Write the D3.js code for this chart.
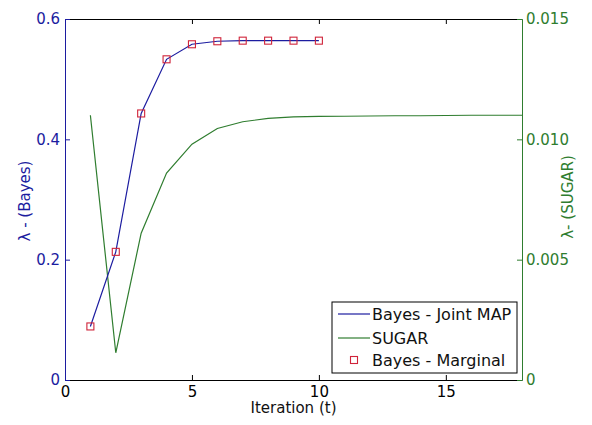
<!DOCTYPE html>
<html>
<head>
<meta charset="utf-8">
<script src="https://cdn.jsdelivr.net/npm/d3@7"></script>
<style>
  body { margin: 0; background: #fff; }
  text { font-family: "DejaVu Sans", sans-serif; }
</style>
</head>
<body>
<div id="chart"></div>
<script>
// data
var iterBayes = [1, 2, 3, 4, 5, 6, 7, 8, 9, 10];
var bayesJoint = [0.089, 0.213, 0.443, 0.533, 0.558, 0.563, 0.564, 0.564, 0.564, 0.564];
var bayesMarginal = [0.089, 0.213, 0.443, 0.533, 0.558, 0.563, 0.564, 0.564, 0.564, 0.564];
var iterSugar = [1, 2, 3, 4, 5, 6, 7, 8, 9, 10, 11, 12, 13, 14, 15, 16, 17, 18];
var sugar = [0.0110, 0.00113, 0.0061, 0.0086, 0.0098, 0.01045, 0.01073, 0.01087, 0.01093,
             0.01095, 0.01096, 0.01097, 0.01098, 0.01098, 0.01099, 0.0110, 0.0110, 0.0110];
var xTicks = [0, 5, 10, 15];
var yLeftTicks = [0, 0.2, 0.4, 0.6];
var yRightTicks = [0, 0.005, 0.010, 0.015];
var legendLabels = ["Bayes - Joint MAP", "SUGAR", "Bayes - Marginal"];

var blue = "#1c1ca0", green = "#2f7d2f", red = "#d0243a";

// set the dimensions and margins of the graph
var margin = {top: 19, right: 70, bottom: 45, left: 65},
    width = 592 - margin.left - margin.right,
    height = 425 - margin.top - margin.bottom;

var svg = d3.select("#chart")
  .append("svg")
    .attr("width", 592)
    .attr("height", 425)
  .append("g")
    .attr("transform", "translate(" + margin.left + "," + margin.top + ")");

var x = d3.scaleLinear().domain([0, 18]).range([0, width]);
var yL = d3.scaleLinear().domain([0, 0.6]).range([height, 0]);
var yR = d3.scaleLinear().domain([0, 0.015]).range([height, 0]);

// top axis (ticks only)
svg.append("g")
  .call(d3.axisTop(x).tickValues(xTicks).tickSize(-5).tickSizeOuter(0).tickFormat(""))
  .call(function(g) { g.selectAll("path,line").attr("stroke", "#000"); });

// bottom axis
svg.append("g")
  .attr("transform", "translate(0," + height + ")")
  .call(d3.axisBottom(x).tickValues(xTicks).tickSize(-5).tickSizeOuter(0).tickPadding(6))
  .call(function(g) {
    g.selectAll("path,line").attr("stroke", "#000");
    g.selectAll("text").attr("fill", "#000").style("font-size", "15px");
  });

// left axis
svg.append("g")
  .call(d3.axisLeft(yL).tickValues(yLeftTicks).tickSize(-5).tickSizeOuter(0).tickPadding(5)
    .tickFormat(function(d) { return d === 0 ? "0" : d.toFixed(1); }))
  .call(function(g) {
    g.selectAll("path,line").attr("stroke", blue);
    g.selectAll("text").attr("fill", blue).style("font-size", "15px");
  });

// right axis
svg.append("g")
  .attr("transform", "translate(" + width + ",0)")
  .call(d3.axisRight(yR).tickValues(yRightTicks).tickSize(-5).tickSizeOuter(0).tickPadding(4)
    .tickFormat(function(d) { return d === 0 ? "0" : d.toFixed(3); }))
  .call(function(g) {
    g.selectAll("path,line").attr("stroke", green);
    g.selectAll("text").attr("fill", green).style("font-size", "15px");
  });

// SUGAR line
svg.append("path")
  .datum(iterSugar)
  .attr("fill", "none")
  .attr("stroke", green)
  .attr("stroke-width", 1.2)
  .attr("d", d3.line()
    .x(function(d) { return x(d); })
    .y(function(d, i) { return yR(sugar[i]); }));

// Bayes joint MAP line
svg.append("path")
  .datum(iterBayes)
  .attr("fill", "none")
  .attr("stroke", blue)
  .attr("stroke-width", 1.2)
  .attr("d", d3.line()
    .x(function(d) { return x(d); })
    .y(function(d, i) { return yL(bayesJoint[i]); }));

// Bayes marginal markers
svg.selectAll("rect.mark")
  .data(iterBayes)
  .enter()
  .append("rect")
    .attr("class", "mark")
    .attr("x", function(d) { return x(d) - 3.5; })
    .attr("y", function(d, i) { return yL(bayesMarginal[i]) - 3.5; })
    .attr("width", 7)
    .attr("height", 7)
    .attr("fill", "none")
    .attr("stroke", red)
    .attr("stroke-width", 1.1);

// axis labels
svg.append("text")
  .attr("x", x(9))
  .attr("y", height + 33)
  .attr("text-anchor", "middle")
  .style("font-size", "15px")
  .attr("fill", "#111")
  .text("Iteration (t)");

svg.append("text")
  .attr("transform", "translate(" + (25 - margin.left) + "," + (201 - margin.top) + ") rotate(-90)")
  .attr("text-anchor", "middle")
  .attr("dominant-baseline", "middle")
  .style("font-size", "15px")
  .attr("fill", blue)
  .text("λ - (Bayes)");

svg.append("text")
  .attr("transform", "translate(" + (568 - margin.left) + "," + (197 - margin.top) + ") rotate(-90)")
  .attr("text-anchor", "middle")
  .attr("dominant-baseline", "middle")
  .style("font-size", "15px")
  .attr("fill", green)
  .text("λ- (SUGAR)");

// legend
var lg = svg.append("g").attr("transform", "translate(" + (332 - margin.left) + "," + (302 - margin.top) + ")");
lg.append("rect")
  .attr("width", 185)
  .attr("height", 71)
  .attr("fill", "#fff")
  .attr("stroke", "#000")
  .attr("stroke-width", 1);

var rowY = [12, 36, 58];
lg.append("line").attr("x1", 6).attr("x2", 38).attr("y1", rowY[0]).attr("y2", rowY[0])
  .attr("stroke", blue).attr("stroke-width", 1.2);
lg.append("line").attr("x1", 6).attr("x2", 38).attr("y1", rowY[1]).attr("y2", rowY[1])
  .attr("stroke", green).attr("stroke-width", 1.2);
lg.append("rect").attr("x", 22 - 3.5).attr("y", rowY[2] - 3.5).attr("width", 7).attr("height", 7)
  .attr("fill", "none").attr("stroke", red).attr("stroke-width", 1.1);

lg.selectAll("text.lab")
  .data(legendLabels)
  .enter()
  .append("text")
    .attr("class", "lab")
    .attr("x", 40)
    .attr("y", function(d, i) { return rowY[i] + 6; })
    .style("font-size", "16px")
    .attr("fill", "#111")
    .text(function(d) { return d; });
</script>
</body>
</html>
